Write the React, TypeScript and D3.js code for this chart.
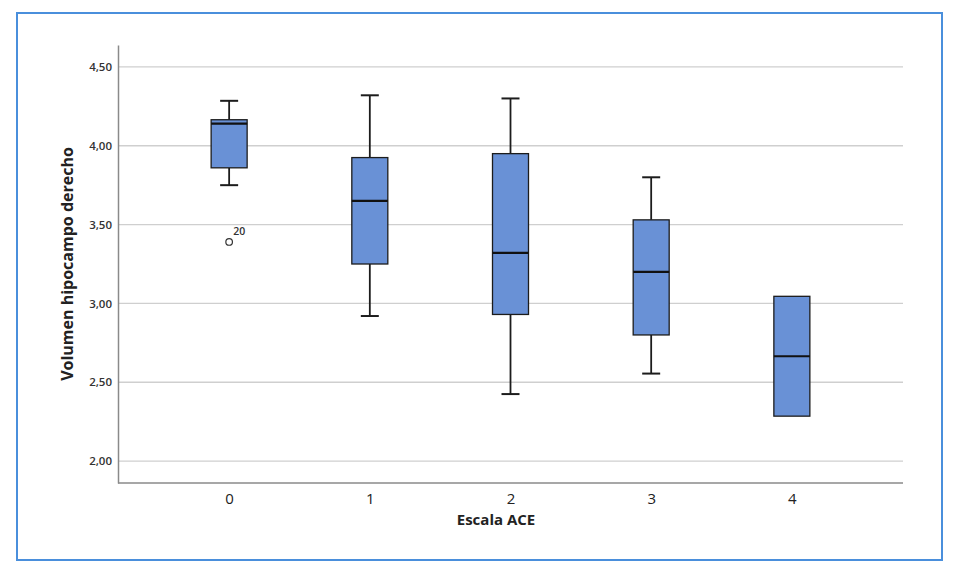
import React, { useEffect, useRef } from "react";
import * as d3 from "d3";

// Escala ACE groups
const categories = ["0", "1", "2", "3", "4"];
const whiskerLow = [3.75, 2.92, 2.425, 2.555, 2.285];
const q1 = [3.86, 3.25, 2.93, 2.8, 2.285];
const median = [4.14, 3.65, 3.32, 3.2, 2.665];
const q3 = [4.165, 3.925, 3.95, 3.53, 3.045];
const whiskerHigh = [4.285, 4.32, 4.3, 3.8, 3.045];
const outliers = [{ cat: "0", value: 3.39, label: "20" }];
const yTicks = [2.0, 2.5, 3.0, 3.5, 4.0, 4.5];

export default function App() {
  const svgRef = useRef<SVGSVGElement | null>(null);

  useEffect(() => {
    if (!svgRef.current) return;
    document.body.style.margin = "0";
    const root = d3.select(svgRef.current);
    root.selectAll("*").remove();

    const W = 960;
    const H = 579;
    root.attr("width", W).attr("height", H).style("display", "block");

    // outer frame
    root
      .append("rect")
      .attr("x", 17)
      .attr("y", 13)
      .attr("width", 925)
      .attr("height", 547)
      .attr("fill", "#fff")
      .attr("stroke", "#4a8fdc")
      .attr("stroke-width", 2);

    const left = 118;
    const right = 903;
    const top = 45;
    const bottom = 483;

    const y = d3.scaleLinear().domain([1.861, 4.639]).range([bottom, top]);
    const x = d3
      .scalePoint<string>()
      .domain(categories)
      .range([left, right])
      .padding(0.79);

    const font = "'Open Sans', 'DejaVu Sans', sans-serif";

    // gridlines
    root
      .append("g")
      .selectAll("line")
      .data(yTicks)
      .join("line")
      .attr("x1", left)
      .attr("x2", right)
      .attr("y1", (d) => y(d))
      .attr("y2", (d) => y(d))
      .attr("stroke", "#cfcfcf")
      .attr("stroke-width", 1.3);

    // y axis
    const yAxis = root
      .append("g")
      .attr("transform", `translate(${left},0)`)
      .call(
        d3
          .axisLeft(y)
          .tickValues(yTicks)
          .tickSize(0)
          .tickPadding(6)
          .tickFormat((d) => d3.format(".2f")(d as number).replace(".", ","))
      );
    yAxis.select(".domain").attr("stroke", "#8a8a8a").attr("stroke-width", 1.5);
    yAxis
      .selectAll("text")
      .attr("font-family", font)
      .attr("font-size", 11.5)
      .attr("font-weight", 600)
      .attr("fill", "#333");

    // x axis
    const xAxis = root
      .append("g")
      .attr("transform", `translate(0,${bottom})`)
      .call(d3.axisBottom(x).tickSize(0).tickPadding(10));
    xAxis
      .select(".domain")
      .attr("stroke", "#8a8a8a")
      .attr("stroke-width", 1.5)
      .attr("d", `M${left},0H${right}`);
    xAxis
      .selectAll("text")
      .attr("font-family", font)
      .attr("font-size", 15)
      .attr("fill", "#222");

    // axis titles
    root
      .append("text")
      .attr("transform", `translate(73,264) rotate(-90)`)
      .attr("text-anchor", "middle")
      .attr("font-family", font)
      .attr("font-size", 16)
      .attr("font-weight", 700)
      .attr("fill", "#222")
      .text("Volumen hipocampo derecho");

    root
      .append("text")
      .attr("x", 496)
      .attr("y", 525)
      .attr("text-anchor", "middle")
      .attr("font-family", font)
      .attr("font-size", 15)
      .attr("font-weight", 700)
      .attr("fill", "#222")
      .text("Escala ACE");

    // boxes
    const boxW = 36;
    const capW = 18;
    const stroke = "#1c1c1c";
    const g = root.append("g");

    categories.forEach((c, i) => {
      const cx = x(c) as number;
      const bg = g.append("g");
      if (whiskerHigh[i] > q3[i]) {
        bg.append("line")
          .attr("x1", cx)
          .attr("x2", cx)
          .attr("y1", y(whiskerHigh[i]))
          .attr("y2", y(q3[i]))
          .attr("stroke", stroke)
          .attr("stroke-width", 1.8);
        bg.append("line")
          .attr("x1", cx - capW / 2)
          .attr("x2", cx + capW / 2)
          .attr("y1", y(whiskerHigh[i]))
          .attr("y2", y(whiskerHigh[i]))
          .attr("stroke", stroke)
          .attr("stroke-width", 2);
      }
      if (whiskerLow[i] < q1[i]) {
        bg.append("line")
          .attr("x1", cx)
          .attr("x2", cx)
          .attr("y1", y(q1[i]))
          .attr("y2", y(whiskerLow[i]))
          .attr("stroke", stroke)
          .attr("stroke-width", 1.8);
        bg.append("line")
          .attr("x1", cx - capW / 2)
          .attr("x2", cx + capW / 2)
          .attr("y1", y(whiskerLow[i]))
          .attr("y2", y(whiskerLow[i]))
          .attr("stroke", stroke)
          .attr("stroke-width", 2);
      }
      bg.append("rect")
        .attr("x", cx - boxW / 2)
        .attr("y", y(q3[i]))
        .attr("width", boxW)
        .attr("height", y(q1[i]) - y(q3[i]))
        .attr("fill", "#6991d6")
        .attr("stroke", stroke)
        .attr("stroke-width", 1.3);
      bg.append("line")
        .attr("x1", cx - boxW / 2)
        .attr("x2", cx + boxW / 2)
        .attr("y1", y(median[i]))
        .attr("y2", y(median[i]))
        .attr("stroke", "#111")
        .attr("stroke-width", 2.2);
    });

    // outliers
    outliers.forEach((o) => {
      const cx = x(o.cat) as number;
      g.append("circle")
        .attr("cx", cx)
        .attr("cy", y(o.value))
        .attr("r", 3.3)
        .attr("fill", "#fff")
        .attr("stroke", "#333")
        .attr("stroke-width", 1.2);
      g.append("text")
        .attr("x", cx + 4)
        .attr("y", y(o.value) - 7)
        .attr("font-family", font)
        .attr("font-size", 10.5)
        .attr("font-weight", 600)
        .attr("fill", "#333")
        .text(o.label);
    });
  }, []);

  return <svg ref={svgRef}></svg>;
}
